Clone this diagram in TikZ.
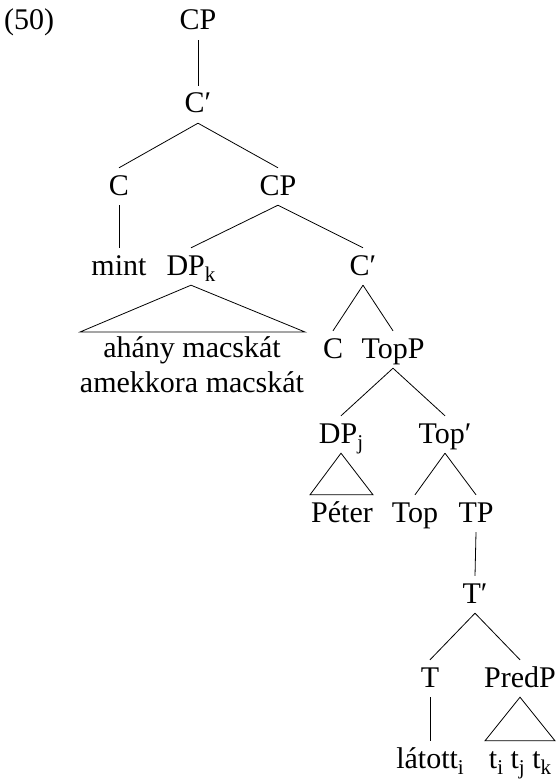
\documentclass[tikz,border=0pt]{standalone}
\usepackage{fontspec}
\setmainfont{Liberation Serif}
\usepackage{tikz}
\usetikzlibrary{calc}
\newcommand{\lsub}[1]{\raisebox{-0.22em}{\fontsize{21}{21}\selectfont #1}}

\begin{document}
\begin{tikzpicture}[x=1pt,y=-1pt,
    font={\fontsize{30}{35}\selectfont},
    cat/.style={anchor=base, text height=20pt, text depth=3pt, inner xsep=1pt, inner ysep=7pt},
    branch/.style={line width=0.8pt}]
  \useasboundingbox (0,0) rectangle (556,781);
  % example number
  \node[anchor=base] (exno) at (29,30) {(50)};
  % tree nodes
  \node[cat] (CPa) at (198,30) {CP};
  \node[cat] (Cbara) at (198,113) {C′};
  \node[cat] (Ca) at (119,195) {C};
  \node[cat] (CPb) at (278,195) {CP};
  \node[cat] (mint) at (119,275) {mint};
  \node[cat] (DPk) at (191,275) {DP\lsub{k}};
  \node[cat] (Cbarb) at (363,275) {C′};
  \node[anchor=north, inner sep=0pt, align=center] (ahany) at (192,336)
    {ahány macskát\\amekkora macskát};
  \node[cat] (Cb) at (333,358) {C};
  \node[cat] (TopP) at (393,358) {TopP};
  \node[cat] (DPj) at (341,443) {DP\lsub{j}};
  \node[cat] (Topbar) at (445,443) {Top′};
  \node[cat] (Peter) at (342,522) {Péter};
  \node[cat] (Top) at (415,522) {Top};
  \node[cat] (TP) at (476,522) {TP};
  \node[cat] (Tbar) at (475,603) {T′};
  \node[cat] (T) at (430,687) {T};
  \node[cat] (PredP) at (520,687) {PredP};
  \node[cat] (latott) at (430,768) {látott\lsub{i}};
  \node[cat] (traces) at (520,768) {t\lsub{i} t\lsub{j} t\lsub{k}};
  % branches
  \foreach \a/\b in {CPa/Cbara, Cbara/Ca, Cbara/CPb, Ca/mint, CPb/DPk, CPb/Cbarb,
      Cbarb/Cb, Cbarb/TopP, TopP/DPj, TopP/Topbar, Topbar/Top, Topbar/TP,
      TP/Tbar, Tbar/T, Tbar/PredP, T/latott}
    \draw[branch] (\a.south) -- (\b.north);
  % triangles
  \draw[branch] (DPk.south) -- ($(ahany.north)+(-112,-4)$) -- ($(ahany.north)+(113,-4)$) -- cycle;
  \draw[branch] (DPj.south) -- ($(Peter.north)+(-32,0)$) -- ($(Peter.north)+(31,0)$) -- cycle;
  \draw[branch] (PredP.south) -- ($(traces.north)+(-35,0)$) -- ($(traces.north)+(35,0)$) -- cycle;
\end{tikzpicture}
\end{document}
